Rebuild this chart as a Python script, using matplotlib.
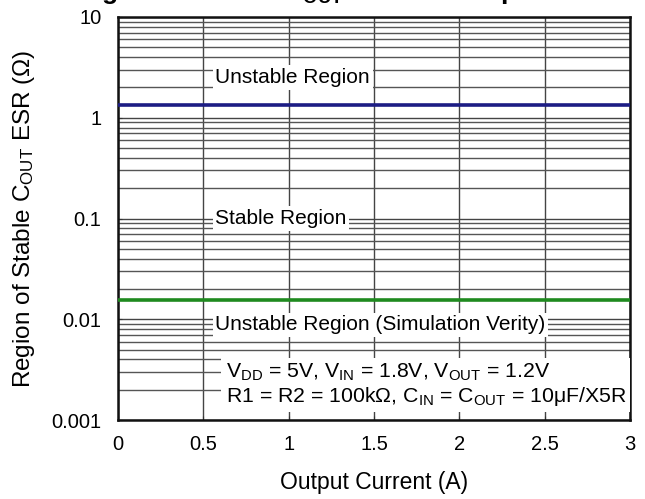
import matplotlib
matplotlib.use("Agg")
import matplotlib.pyplot as plt
import numpy as np

plt.rcParams['font.family'] = ['Liberation Sans', 'DejaVu Sans']
plt.rcParams['mathtext.fontset'] = 'custom'
plt.rcParams['mathtext.rm'] = 'Liberation Sans'
plt.rcParams['mathtext.it'] = 'Liberation Sans:italic'
plt.rcParams['mathtext.bf'] = 'Liberation Sans:bold'

# Data
current = [0, 3]
upper_esr = [1.35, 1.35]     # upper stability boundary (Ω)
lower_esr = [0.0155, 0.0155]  # lower stability boundary (Ω)
x_ticks = [0, 0.5, 1, 1.5, 2, 2.5, 3]
x_tick_labels = ['0', '0.5', '1', '1.5', '2', '2.5', '3']
y_ticks = [0.001, 0.01, 0.1, 1, 10]
y_tick_labels = ['0.001', '0.01', '0.1', '1', '10']

fig = plt.figure(figsize=(6.45, 4.99), dpi=100)
ax = fig.add_axes([0.183, 0.158, 0.794, 0.808])
ax.set_yscale('log')
ax.set_xlim(0, 3)
ax.set_ylim(0.001, 10)

ax.set_xticks(x_ticks)
ax.set_xticklabels(x_tick_labels)
ax.set_yticks(y_ticks)
ax.set_yticklabels(y_tick_labels)
ax.yaxis.set_minor_locator(matplotlib.ticker.LogLocator(base=10, subs=np.arange(2, 10)))
ax.yaxis.set_minor_formatter(matplotlib.ticker.NullFormatter())
ax.tick_params(axis='both', which='both', direction='in', length=3, labelsize=14.5, color='#333333')
ax.tick_params(axis='x', pad=11)
ax.tick_params(axis='y', pad=12)
ax.tick_params(axis='y', which='minor', length=0)

ax.grid(True, which='major', axis='both', color='#444444', linewidth=1.0)
ax.grid(True, which='minor', axis='y', color='#555555', linewidth=1.0)
for s in ax.spines.values():
    s.set_linewidth(1.8)
    s.set_color('#111111')

ax.plot(current, upper_esr, color='#1c1c84', linewidth=2.6, zorder=3)
ax.plot(current, lower_esr, color='#1f8a1f', linewidth=2.6, zorder=3)

box = dict(facecolor='white', edgecolor='none', pad=2)
ax.text(0.57, 2.5, 'Unstable Region', fontsize=15, va='center', ha='left', bbox=box, zorder=4)
ax.text(0.57, 0.1, 'Stable Region', fontsize=15, va='center', ha='left', bbox=box, zorder=4)
ax.text(0.57, 0.0088, 'Unstable Region (Simulation Verity)', fontsize=15, va='center', ha='left',
        bbox=box, zorder=4)
ax.text(0.63, 0.00225,
        'V$_{\\mathrm{DD}}$ = 5V, V$_{\\mathrm{IN}}$ = 1.8V, V$_{\\mathrm{OUT}}$ = 1.2V\n'
        'R1 = R2 = 100k\u03a9, C$_{\\mathrm{IN}}$ = C$_{\\mathrm{OUT}}$ = 10\u03bcF/X5R',
        fontsize=15.3, va='center', ha='left', linespacing=1.15,
        bbox=dict(facecolor='white', edgecolor='none', pad=3), zorder=4)

ax.set_xlabel('Output Current (A)', fontsize=16.5, labelpad=12)
ax.set_ylabel('Region of Stable C$_{\\mathrm{OUT}}$ ESR (\u03a9)', fontsize=17.5, labelpad=10)

fig.text(68 / 645, 1 + 1.5 / 499, 'Region of Stable C$_{\\mathbf{OUT}}$ ESR vs. Output Current',
         fontsize=19, fontweight='bold', ha='left', va='baseline')

fig.savefig('out.png', dpi=100)
